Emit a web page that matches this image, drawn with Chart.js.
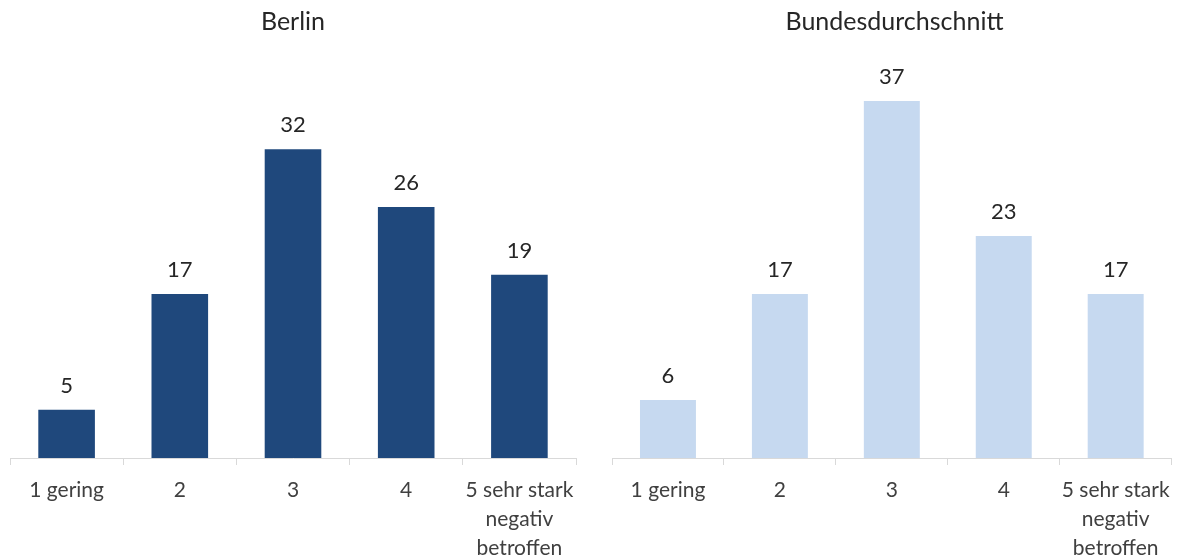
<!DOCTYPE html>
<html lang="de">
<head>
<meta charset="utf-8">
<title>Berlin / Bundesdurchschnitt</title>
<script src="https://cdn.jsdelivr.net/npm/chart.js@4"></script>
<style>
  html, body { margin: 0; padding: 0; background: #fff; }
  .wrap { position: relative; width: 1181px; height: 557px; overflow: hidden; }
  .panel { position: absolute; top: 0; height: 557px; }
  #left { left: 0; width: 590px; }
  #right { left: 600px; width: 581px; }
</style>
</head>
<body>
<div class="wrap">
  <div class="panel" id="left"><canvas id="berlinChart"></canvas></div>
  <div class="panel" id="right"><canvas id="bundChart"></canvas></div>
</div>
<script>
// Kategorien und Werte
const categories = [['1 gering'], ['2'], ['3'], ['4'], ['5 sehr stark', 'negativ', 'betroffen']];
const berlinValues = [5, 17, 32, 26, 19];
const bundValues = [6, 17, 37, 23, 17];
const yMax = 40;

const FONT = 'Lato, "Open Sans", sans-serif';

// Werte über den Balken schreiben
const valueLabels = {
  id: 'valueLabels',
  afterDatasetsDraw(chart) {
    const ctx = chart.ctx;
    ctx.save();
    ctx.font = '22px ' + FONT;
    ctx.fillStyle = '#262626';
    ctx.textAlign = 'center';
    ctx.textBaseline = 'middle';
    chart.data.datasets.forEach((ds, i) => {
      chart.getDatasetMeta(i).data.forEach((bar, j) => {
        ctx.fillText(ds.data[j], bar.x, bar.y - 24);
      });
    });
    ctx.restore();
  }
};

function makeChart(id, title, values, color, padLeft, padRight) {
  return new Chart(document.getElementById(id), {
    type: 'bar',
    data: {
      labels: categories,
      datasets: [{
        data: values,
        backgroundColor: color,
        barPercentage: 0.5,
        categoryPercentage: 1.0
      }]
    },
    options: {
      responsive: true,
      maintainAspectRatio: false,
      animation: false,
      layout: { padding: { left: padLeft, right: padRight, top: 0, bottom: 0 } },
      plugins: {
        legend: { display: false },
        tooltip: { enabled: false },
        title: {
          display: true,
          text: title,
          color: '#262626',
          font: { family: FONT, size: 25, weight: 'normal', lineHeight: 1.2 },
          padding: { top: 7, bottom: 35 }
        }
      },
      scales: {
        x: {
          grid: {
            offset: true,
            drawOnChartArea: false,
            tickLength: 7,
            color: '#d9d9d9'
          },
          border: { color: '#d9d9d9', width: 1 },
          ticks: {
            color: '#404040',
            padding: 11,
            maxRotation: 0,
            autoSkip: false,
            font: { family: FONT, size: 21, lineHeight: 1.37 }
          },
          afterFit(scale) { scale.height = 99; }
        },
        y: {
          display: false,
          min: 0,
          max: yMax
        }
      }
    },
    plugins: [valueLabels]
  });
}

makeChart('berlinChart', 'Berlin', berlinValues, '#1f487c', 10, 14);
makeChart('bundChart', 'Bundesdurchschnitt', bundValues, '#c6d9f0', 12, 4);
</script>
</body>
</html>
